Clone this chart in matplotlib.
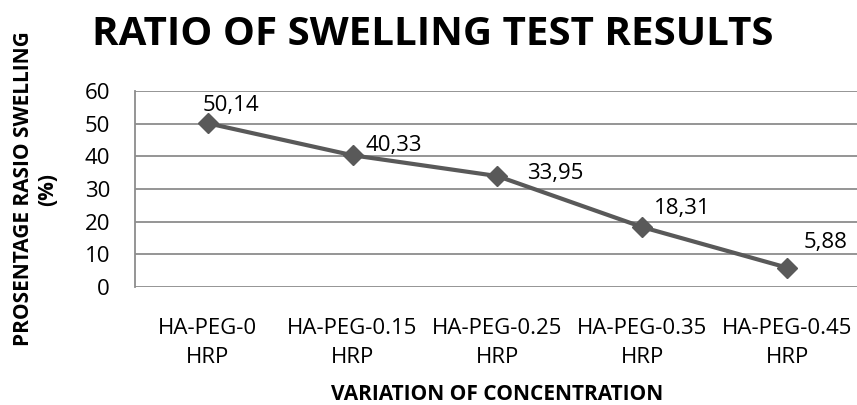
import numpy as np
import matplotlib.pyplot as plt

categories = ["HA-PEG-0\nHRP", "HA-PEG-0.15\nHRP", "HA-PEG-0.25\nHRP", "HA-PEG-0.35\nHRP", "HA-PEG-0.45\nHRP"]
swelling = [50.14, 40.33, 33.95, 18.31, 5.88]
value_labels = ["50,14", "40,33", "33,95", "18,31", "5,88"]
yticks = [0, 10, 20, 30, 40, 50, 60]

# label offsets in pixels (manually placed in the original)
label_offsets = [(-5, 18), (13, 10), (30, 3), (11, 19), (16, 25)]

plt.rcParams['font.family'] = ['Open Sans', 'DejaVu Sans']

fig = plt.figure(figsize=(8.57, 4.05), dpi=100)
ax = fig.add_axes([135 / 857, 1 - 287 / 405, 725 / 857, 196 / 405])

x = np.arange(len(categories))
ax.plot(x, swelling, color="#595959", linewidth=3, marker="D", markersize=10,
        markerfacecolor="#595959", markeredgecolor="#595959", zorder=3)

for xi, yi, lab, off in zip(x, swelling, value_labels, label_offsets):
    ax.annotate(lab, (xi, yi), xytext=off, textcoords="offset pixels",
                ha="left", va="center", fontsize=16, color="black")

ax.set_xlim(-0.5, len(categories) - 0.5)
ax.set_ylim(0, 60)
ax.set_yticks(yticks)
ax.set_xticks(x)
ax.set_xticklabels(categories, fontsize=16, linespacing=1.55)
ax.tick_params(axis="y", labelsize=16, length=0, pad=18)
ax.tick_params(axis="x", length=0, pad=22)
ax.yaxis.grid(True, color="#8c8c8c", linewidth=1.3)
ax.set_axisbelow(True)
for s in ["top", "right", "bottom"]:
    ax.spines[s].set_visible(False)
ax.spines["left"].set_color("#8c8c8c")
ax.spines["left"].set_linewidth(1.3)

ax.set_ylabel("PROSENTAGE RASIO SWELLING\n(%)", fontsize=15, fontweight="bold", labelpad=19)
ax.set_xlabel("VARIATION OF CONCENTRATION", fontsize=15, fontweight="bold", labelpad=11)
fig.text(0.505, 0.915, "RATIO OF SWELLING TEST RESULTS", ha="center", va="center",
         fontsize=29, fontweight="bold")

fig.savefig("out.png", dpi=100)
